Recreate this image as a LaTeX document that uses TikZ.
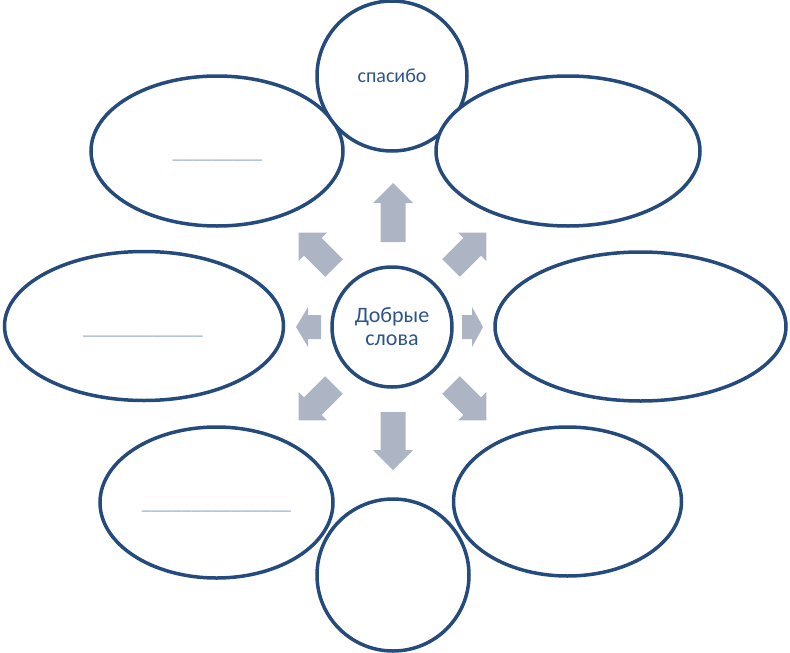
\documentclass[tikz,border=0pt]{standalone}
\usepackage{fontspec}
\setmainfont{Carlito}
\usetikzlibrary{shapes.geometric}
\definecolor{outline}{RGB}{37,75,125}
\definecolor{arrowfill}{RGB}{173,180,196}
\definecolor{txt}{RGB}{45,85,140}
\definecolor{uline}{RGB}{150,170,202}
\tikzset{
  bubble/.style={ellipse, draw=outline, line width=3.5pt, fill=white, inner sep=0pt},
  blank/.style={anchor=base, text=uline, font=\fontsize{20}{24}\selectfont, inner sep=0pt}
}
\newcommand\blockarrow[6]{%
  \fill[arrowfill, shift={(#1,#2)}, rotate=#3]
    (0,-#6) -- ({#4-#5},-#6) -- ({#4-#5},-20) -- (#4,0) -- ({#4-#5},20) -- ({#4-#5},#6) -- (0,#6) -- cycle;}
\begin{document}
\begin{tikzpicture}[x=1pt,y=-1pt]
\useasboundingbox (0,0) rectangle (790,653);
% left-side ellipses (drawn below the top circle)
\node[bubble, minimum width=252pt, minimum height=150pt] (tl) at (217,151) {};
\node[bubble, minimum width=279pt, minimum height=149pt] (l) at (144,326) {};
\node[bubble, minimum width=233pt, minimum height=151pt] (bl) at (216.5,502.5) {};
% top circle
\node[bubble, minimum width=150pt, minimum height=150pt, text=txt, font=\fontsize{20}{24}\selectfont] (t) at (392,76) {спасибо};
% right-side ellipses
\node[bubble, minimum width=264pt, minimum height=150pt] (tr) at (568,151) {};
\node[bubble, minimum width=291pt, minimum height=149pt] (r) at (640.5,326.5) {};
\node[bubble, minimum width=228pt, minimum height=149pt] (br) at (567.5,501.5) {};
% bottom circle
\node[bubble, minimum width=152pt, minimum height=152pt] (b) at (393,575) {};
% centre
\node[bubble, minimum width=120pt, minimum height=120pt, text=txt, align=center, font=\fontsize{22}{23}\selectfont] (c) at (392,327) {Добрые\\слова};
% blanks
\node[blank] (tlb) at (217.5,158) {\_\_\_\_\_\_\_\_\_};
\node[blank] (lb) at (143,334) {\_\_\_\_\_\_\_\_\_\_\_\_};
\node[blank] (blb) at (216.5,509) {\_\_\_\_\_\_\_\_\_\_\_\_\_\_\_};
% block arrows
\blockarrow{393}{242}{90}{59}{20}{12.5}
\blockarrow{393}{412}{-90}{58}{20}{12.5}
\blockarrow{321}{327}{180}{25}{12}{12}
\blockarrow{462}{327}{0}{21}{11}{12}
\blockarrow{334}{268}{135}{50}{20}{12.5}
\blockarrow{451}{268}{45}{50}{20}{12.5}
\blockarrow{334}{385}{225}{50}{20}{12.5}
\blockarrow{451}{385}{-45}{50}{20}{12.5}
\end{tikzpicture}
\end{document}
